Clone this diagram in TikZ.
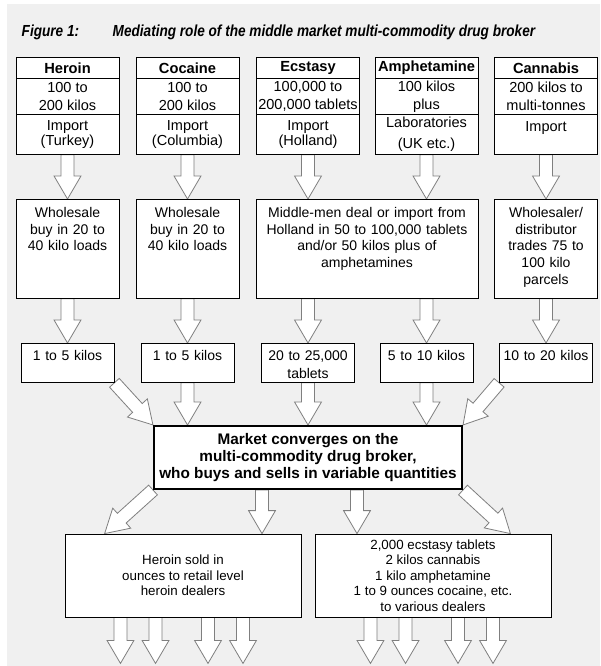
\documentclass[tikz,border=0pt]{standalone}
\usepackage{fontspec}
\setmainfont{Liberation Sans}
\newfontfamily\titlefont[FakeStretch=0.85]{Liberation Sans}
\usetikzlibrary{calc}
\pgfdeclarelayer{back}
\pgfdeclarelayer{arrows}
\pgfsetlayers{back,arrows,main}
\definecolor{paper}{HTML}{F0F0F0}
\definecolor{arrowline}{HTML}{7F7F7F}
\tikzset{
	cell/.style={draw, fill=white, line width=0.6pt, inner sep=0pt, align=center, minimum width=77.25pt},
	head/.style={cell, minimum height=15.75pt, font=\fontsize{11}{13}\selectfont\bfseries},
	qty/.style={cell, minimum height=27pt, font=\fontsize{10.9}{13.5}\selectfont},
	source/.style={cell, minimum height=30pt, font=\fontsize{10.9}{11.5}\selectfont},
	trade/.style={draw, fill=white, line width=0.6pt, inner sep=0pt, align=center, text width=#1, text height=13.5pt, text depth=60.75pt, font=\fontsize{10.5}{12.5}\selectfont},
	lots/.style={draw, fill=white, line width=0.6pt, inner sep=0pt, align=center, text width=69.75pt, text height=12.75pt, text depth=16.5pt, font=\fontsize{10.5}{13.5}\selectfont},
	broker/.style={draw, fill=white, line width=1.5pt, inner sep=0pt, align=center, minimum width=231pt, minimum height=47.25pt, font=\fontsize{11.5}{13.1}\selectfont\bfseries},
	outlet/.style={draw, fill=white, line width=0.6pt, inner sep=0pt, align=center, minimum width=177pt, minimum height=62.25pt, font=\fontsize{10}{11.6}\selectfont},
	blockarrow/.style={draw=arrowline, fill=white, line width=0.6pt, line join=miter}
}
\newcommand\blockarrow[2]{%
	\draw[blockarrow] let \p1=#1, \p2=#2, \n1={veclen(\x2-\x1,\y2-\y1)}, \n2={atan2(\y2-\y1,\x2-\x1)} in
		[shift={(\p1)}, rotate=\n2] (0pt,-4.9pt) -- (\n1-17.25pt,-4.9pt) -- (\n1-17.25pt,-10.1pt) -- (\n1+0pt,0pt) -- (\n1-17.25pt,10.1pt) -- (\n1-17.25pt,4.9pt) -- (0pt,4.9pt) -- cycle;}
\begin{document}
\begin{tikzpicture}[x=0.75pt, y=-0.75pt]
	\useasboundingbox (0,0) rectangle (600,666);
	\begin{pgfonlayer}{back}
		\fill[paper] (7,4) rectangle (600,666);
	\end{pgfonlayer}
	\node[anchor=base west, font=\titlefont\fontsize{12}{14}\selectfont\bfseries\itshape] (figno) at (17,36.5) {Figure 1:};
	\node[anchor=base west, font=\titlefont\fontsize{12}{14}\selectfont\bfseries\itshape] (title) at (108,36.5) {Mediating role of the middle market multi-commodity drug broker};

	\node[head, anchor=north] (heroin) at (67.5,57) {Heroin};
	\node[qty, anchor=north] (heroinQty) at (67.5,78) {100 to\\200 kilos};
	\node[source, anchor=north] (heroinSrc) at (67.5,114) {Import\\(Turkey)};
	\node[head, anchor=north] (cocaine) at (187.5,57) {Cocaine};
	\node[qty, anchor=north] (cocaineQty) at (187.5,78) {100 to\\200 kilos};
	\node[source, anchor=north] (cocaineSrc) at (187.5,114) {Import\\(Columbia)};
	\node[head, anchor=north] (ecstasy) at (308,57) {Ecstasy};
	\node[qty, anchor=north] (ecstasyQty) at (308,78) {100,000 to\\200,000 tablets};
	\node[source, anchor=north] (ecstasySrc) at (308,114) {Import\\(Holland)};
	\node[head, anchor=north] (amph) at (426.5,57) {Amphetamine};
	\node[qty, anchor=north] (amphQty) at (426.5,78) {100 kilos\\plus};
	\node[source, anchor=north] (amphSrc) at (426.5,114) {Laboratories\\[4pt](UK etc.)};
	\node[head, anchor=north] (cannabis) at (546,57) {Cannabis};
	\node[qty, anchor=north] (cannabisQty) at (546,78) {200 kilos to\\multi-tonnes};
	\node[source, anchor=north] (cannabisSrc) at (546,114) {Import\\\mbox{}};

	\node[trade=77.25pt, anchor=north] (heroinWs) at (67.5,199) {Wholesale\\buy in 20 to\\40 kilo loads};
	\node[trade=77.25pt, anchor=north] (cocaineWs) at (187.5,199) {Wholesale\\buy in 20 to\\40 kilo loads};
	\node[trade=166.5pt, anchor=north] (middleWs) at (367,199) {Middle-men deal or import from\\Holland in 50 to 100,000 tablets\\and/or 50 kilos plus of\\amphetamines};
	\node[trade=77.25pt, anchor=north] (cannabisWs) at (546,199) {Wholesaler/\\distributor\\trades 75 to\\100 kilo\\parcels};

	\node[lots, anchor=north] (heroinLot) at (67.5,343) {1 to 5 kilos};
	\node[lots, anchor=north] (cocaineLot) at (187.5,343) {1 to 5 kilos};
	\node[lots, anchor=north] (ecstasyLot) at (308,343) {20 to 25,000\\tablets};
	\node[lots, anchor=north] (amphLot) at (426.5,343) {5 to 10 kilos};
	\node[lots, anchor=north] (cannabisLot) at (546,343) {10 to 20 kilos};

	\node[broker] (broker) at (308,457.5) {Market converges on the\\multi-commodity drug broker,\\who buys and sells in variable quantities};

	\node[outlet] (heroinOut) at (183,575.5) {Heroin sold in\\ounces to retail level\\heroin dealers};
	\node[outlet] (mixedOut) at (433,575.5) {2,000 ecstasy tablets\\2 kilos cannabis\\1 kilo amphetamine\\1 to 9 ounces cocaine, etc.\\to various dealers};

	\begin{pgfonlayer}{arrows}
		\blockarrow{(heroinSrc.south)}{(heroinWs.north)}
		\blockarrow{(cocaineSrc.south)}{(cocaineWs.north)}
		\blockarrow{(ecstasySrc.south)}{(ecstasySrc.south |- middleWs.north)}
		\blockarrow{(amphSrc.south)}{(amphSrc.south |- middleWs.north)}
		\blockarrow{(cannabisSrc.south)}{(cannabisWs.north)}
		\blockarrow{(heroinWs.south)}{(heroinLot.north)}
		\blockarrow{(cocaineWs.south)}{(cocaineLot.north)}
		\blockarrow{(ecstasyLot.north |- middleWs.south)}{(ecstasyLot.north)}
		\blockarrow{(amphLot.north |- middleWs.south)}{(amphLot.north)}
		\blockarrow{(cannabisWs.south)}{(cannabisLot.north)}
		\blockarrow{(heroinLot.south east)}{(broker.north west)}
		\blockarrow{(cocaineLot.south)}{(cocaineLot.south |- broker.north)}
		\blockarrow{(ecstasyLot.south)}{(ecstasyLot.south |- broker.north)}
		\blockarrow{(amphLot.south)}{(amphLot.south |- broker.north)}
		\blockarrow{(cannabisLot.south west)}{(broker.north east)}
		\blockarrow{(broker.south west)}{([xshift=30pt]heroinOut.north west)}
		\blockarrow{([xshift=-34.5pt]broker.south)}{([xshift=-34.5pt]broker.south |- heroinOut.north)}
		\blockarrow{([xshift=36.75pt]broker.south)}{([xshift=36.75pt]broker.south |- mixedOut.north)}
		\blockarrow{(broker.south east)}{([xshift=-30.75pt]mixedOut.north east)}
		\foreach \dx in {-46.9,-20.6,18.75,45}{
			\blockarrow{([xshift=\dx pt]heroinOut.south)}{([xshift=\dx pt,yshift=-34.5pt]heroinOut.south)}
			\blockarrow{([xshift=\dx pt]mixedOut.south)}{([xshift=\dx pt,yshift=-34.5pt]mixedOut.south)}
		}
	\end{pgfonlayer}
\end{tikzpicture}
\end{document}
